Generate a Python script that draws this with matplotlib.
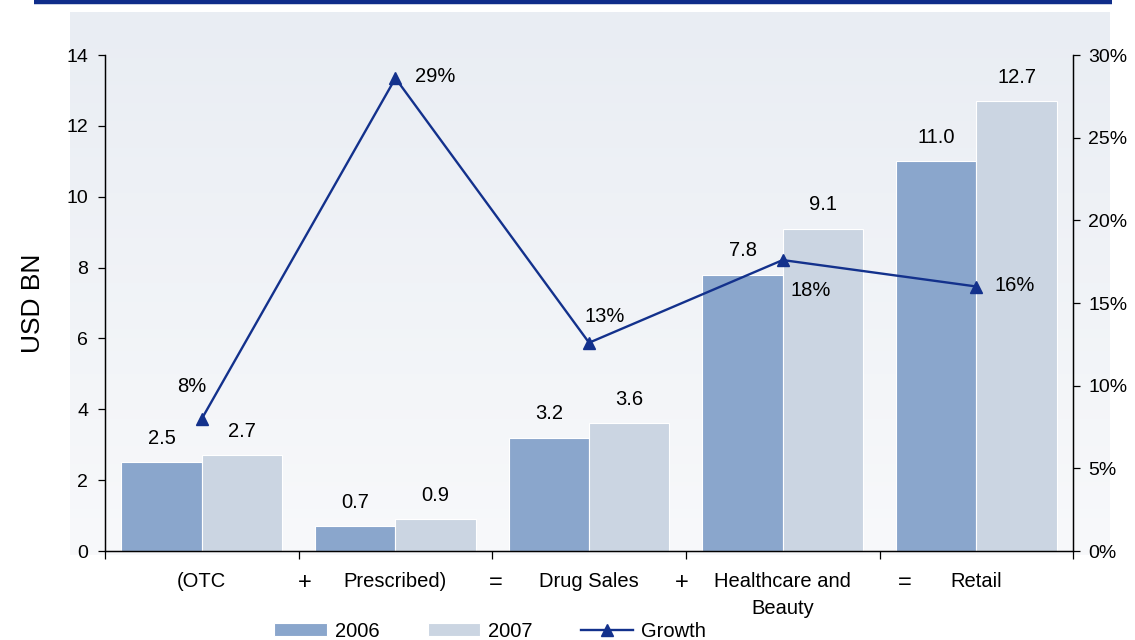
import matplotlib.pyplot as plt
import numpy as np

plt.rcParams['font.family'] = ['Liberation Sans', 'DejaVu Sans']

# sales by segment, USD bn
categories = ['(OTC', 'Prescribed)', 'Drug Sales', 'Healthcare and\nBeauty', 'Retail']
operators = ['+', '=', '+', '=']
sales_2006 = [2.5, 0.7, 3.2, 7.8, 11.0]
sales_2007 = [2.7, 0.9, 3.6, 9.1, 12.7]
growth = [0.08, 0.286, 0.126, 0.176, 0.16]

c2006 = '#8aa6cc'
c2007 = '#cbd5e2'
cline = '#13318c'

fig = plt.figure(figsize=(11.35, 6.4), dpi=100)

# background panel with soft vertical gradient and blue rule on top
bg = fig.add_axes([0, 0, 1, 1], zorder=-5)
bg.set_xlim(0, 1135)
bg.set_ylim(640, 0)
bg.axis('off')
top = np.array([0xe9, 0xed, 0xf3]) / 255
bot = np.array([0xf8, 0xf9, 0xfb]) / 255
t = np.linspace(0, 1, 256)[:, None, None]
grad = top * (1 - t) + bot * t
bg.imshow(grad, extent=[70, 1110, 555, 12], aspect='auto', interpolation='bilinear')
bg.plot([34, 1112], [1.5, 1.5], color='#0f2d8a', lw=3.2, solid_capstyle='butt')

ax = fig.add_axes([0.0925, 0.139, 0.853, 0.775])
ax.patch.set_alpha(0)
x = np.arange(len(categories))
w = 0.415
b1 = ax.bar(x - w / 2, sales_2006, w, color=c2006, edgecolor='white', linewidth=0.8, label='2006')
b2 = ax.bar(x + w / 2, sales_2007, w, color=c2007, edgecolor='white', linewidth=0.8, label='2007')
for bars, vals in ((b1, sales_2006), (b2, sales_2007)):
    for r, v in zip(bars, vals):
        ax.annotate(f'{v:.1f}', (r.get_x() + r.get_width() / 2, v), xytext=(0, 24),
                    textcoords='offset pixels', ha='center', va='center', fontsize=14.5)

ax.set_xlim(-0.5, 4.5)
ax.set_ylim(0, 14)
ax.set_yticks(range(0, 15, 2))
ax.set_ylabel('USD BN', fontsize=19)
ax.yaxis.set_label_coords(-0.062, 0.5)
ax.spines['top'].set_visible(False)
for s in ax.spines.values():
    s.set_linewidth(0.9)
ax.tick_params(axis='y', direction='out', length=5, width=0.9, pad=7, labelsize=14)
ax.set_xticks(x)
ax.set_xticklabels(categories, fontsize=14.5, linespacing=1.55)
ax.tick_params(axis='x', length=0, pad=15)
ax.set_xticks(np.arange(-0.5, 4.6, 1), minor=True)
ax.tick_params(axis='x', which='minor', direction='out', length=6, width=0.9)
for xo, op in zip([0.53, 1.52, 2.48, 3.63], operators):
    ax.annotate(op, (xo, 0), xycoords=('data', 'axes fraction'), xytext=(0, -32),
                textcoords='offset pixels', ha='center', va='center', fontsize=17)

ax2 = ax.twinx()
ax2.set_ylim(0, 0.30)
ax2.set_yticks(np.arange(0, 0.301, 0.05))
ax2.set_yticklabels([f'{v:.0%}' for v in np.arange(0, 0.301, 0.05)])
ax2.spines['top'].set_visible(False)
for s in ax2.spines.values():
    s.set_linewidth(0.9)
ax2.tick_params(axis='y', direction='out', length=5, width=0.9, pad=6, labelsize=14)
ln, = ax2.plot(x, growth, color=cline, lw=1.7, marker='^', markersize=9, label='Growth')
label_off = [(-10, 32), (40, 2), (16, 26), (28, -30), (38, 1)]
for xi, g, off in zip(x, growth, label_off):
    ax2.annotate(f'{g:.0%}', (xi, g), xytext=off, textcoords='offset pixels',
                 ha='center', va='center', fontsize=14.5)

fig.legend(handles=[b1, b2, ln], loc='center', bbox_to_anchor=(0.432, 0.014), ncol=3,
           frameon=False, fontsize=14.5, handlelength=2.6, handleheight=0.6,
           handletextpad=0.4, columnspacing=2.4)

fig.savefig('out.png', dpi=100)
